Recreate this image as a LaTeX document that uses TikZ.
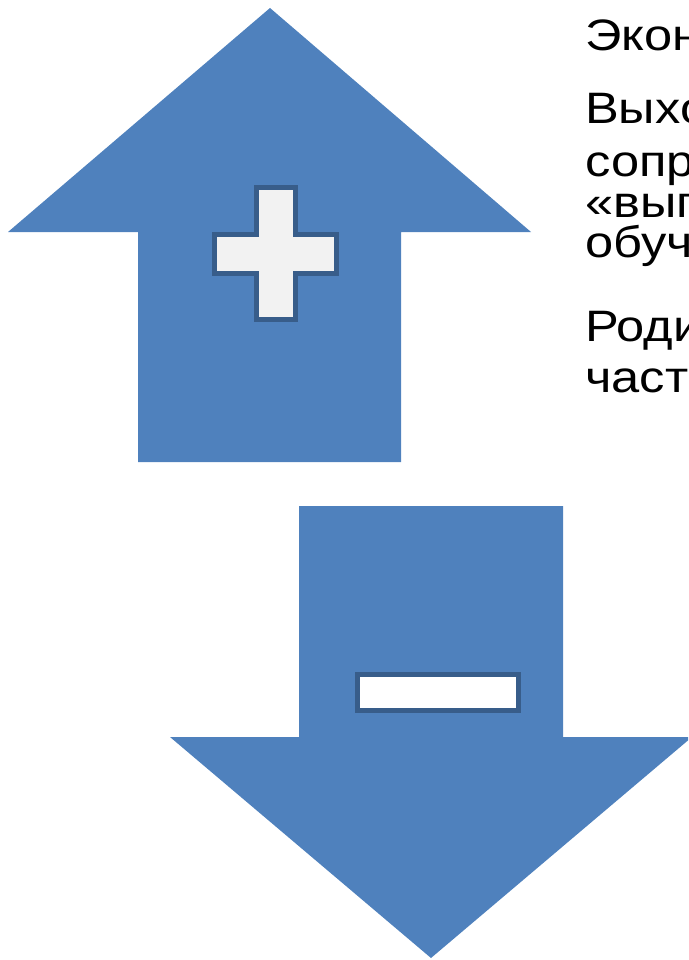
\documentclass[tikz,border=0pt]{standalone}
\usepackage{fontspec}
\setmainfont{Liberation Sans}[FakeStretch=1.15]
\definecolor{arrowblue}{HTML}{4F81BD}
\definecolor{signline}{HTML}{385D8A}
\definecolor{signfill}{HTML}{F2F2F2}
\begin{document}
\begin{tikzpicture}[x=1pt, y=-1pt,
  textline/.style={anchor=base west, inner sep=0pt, font=\fontsize{44}{40}\selectfont}]
\useasboundingbox (0,0) rectangle (688,960);
\clip (0,0) rectangle (688,960);
% up arrow with plus
\fill[arrowblue] (270,8) -- (531,232) -- (401,232) -- (401,462) -- (138,462) -- (138,232) -- (8,232) -- cycle;
\draw[signline, line width=5pt, fill=signfill] (256.5,187.5) -- (295.5,187.5) -- (295.5,234.5) -- (336.5,234.5) -- (336.5,273.5) -- (295.5,273.5) -- (295.5,319.5) -- (256.5,319.5) -- (256.5,273.5) -- (214.5,273.5) -- (214.5,234.5) -- (256.5,234.5) -- cycle;
% down arrow with minus
\fill[arrowblue] (299,506) -- (563,506) -- (563,737) -- (692,737) -- (431,958) -- (170,737) -- (299,737) -- cycle;
\draw[signline, line width=5pt, fill=white] (357.5,674.5) rectangle (518.5,710.5);
% text
\node[textline] (t1) at (585,51) {Экономика};
\node[textline] (t2) at (585,124) {Выход};
\node[textline] (t3) at (585,177) {сопровождение};
\node[textline] (t4) at (585,217) {«выпускников»};
\node[textline] (t5) at (585,257) {обучения};
\node[textline] (t6) at (585,341) {Родители};
\node[textline] (t7) at (585,392) {частично};
\end{tikzpicture}
\end{document}
